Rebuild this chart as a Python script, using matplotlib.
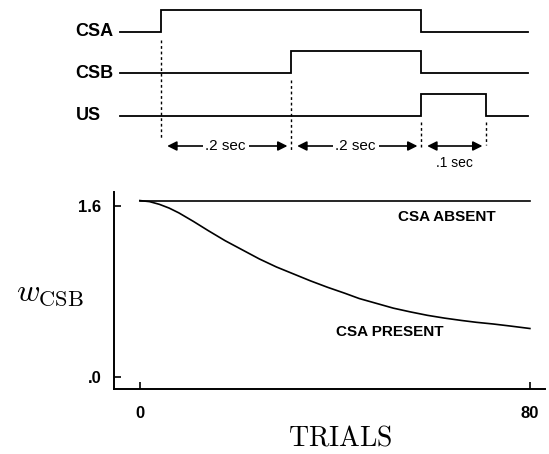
import matplotlib
matplotlib.use("Agg")
import matplotlib.pyplot as plt

plt.rcParams["mathtext.fontset"] = "cm"
plt.rcParams["font.family"] = ["Liberation Sans", "DejaVu Sans"]

# stimulus timing (seconds)
stim_names = ["CSA", "CSB", "US"]
stim_on = [0.0, 0.2, 0.4]
stim_off = [0.4, 0.4, 0.5]
trace_start, trace_end = -0.063, 0.565
interval_labels = [".2 sec", ".2 sec", ".1 sec"]

# associative strength of CSB over trials
trials = [0, 2, 4, 6, 8, 11, 14, 17.5, 21, 24.5, 28, 31.5, 35, 38.5, 42, 45,
          48.5, 52, 55.5, 59, 62.5, 66, 69, 72.5, 76, 80]
w_present = [1.65, 1.64, 1.615, 1.58, 1.535, 1.455, 1.37, 1.275, 1.19, 1.105,
             1.03, 0.965, 0.90, 0.84, 0.785, 0.735, 0.69, 0.645, 0.61, 0.578,
             0.552, 0.53, 0.513, 0.497, 0.478, 0.455]
w_absent = [1.65, 1.65]
absent_trials = [0, 80]

W, H = 549, 454
fig = plt.figure(figsize=(W / 100, H / 100), dpi=100)

# ---- timing diagram ----
top = fig.add_axes([0, 1 - 180 / H, 1, 180 / H])
top.set_xlim((0 - 160.7) / 650, (W - 160.7) / 650)
top.set_ylim(180, 0)
top.axis("off")

rows = [32, 73, 116]
pulse = 22
for name, on, off, base in zip(stim_names, stim_on, stim_off, rows):
    xs = [trace_start, on, on, off, off, trace_end]
    ys = [base, base, base - pulse, base - pulse, base, base]
    top.plot(xs, ys, color="black", lw=1.3, solid_joinstyle="miter")
    top.text(-0.131, base, name, ha="left", va="center",
             fontsize=13, fontweight="bold")

# dotted markers at onsets / offset
dots = [(stim_on[0], 40, 140), (stim_on[1], 80, 150),
        (stim_on[2], 122, 147), (stim_off[2], 122, 145)]
for x, y0, y1 in dots:
    top.plot([x, x], [y0, y1], color="black", lw=1.0, ls=(0, (2, 2)))

edges = [stim_on[0], stim_on[1], stim_on[2], stim_off[2]]
arrow_y = 146
for i, lab in enumerate(interval_labels):
    a, b = edges[i] + 0.01, edges[i + 1] - 0.005
    top.annotate("", xy=(b, arrow_y), xytext=(a, arrow_y),
                 arrowprops=dict(arrowstyle="<|-|>", color="black", lw=1.2,
                                 mutation_scale=14, shrinkA=0, shrinkB=0))
    mid = (edges[i] + edges[i + 1]) / 2
    if i < 2:
        top.text(mid, arrow_y, lab, ha="center", va="center", fontsize=11,
                 bbox=dict(facecolor="white", edgecolor="none", pad=2))
    else:
        top.text(mid + 0.002, arrow_y + 17, lab, ha="center", va="center",
                 fontsize=10)

# ---- learning curves ----
ax = fig.add_axes([114 / W, 1 - 389 / H, (545 - 114) / W, (389 - 192) / H])
ax.plot(absent_trials, w_absent, color="black", lw=1.2)
ax.plot(trials, w_present, color="black", lw=1.2)
ax.set_xlim(-5.3, 83.1)
ax.set_ylim(-0.11, 1.73)
for s in ["top", "right"]:
    ax.spines[s].set_visible(False)
for s in ["left", "bottom"]:
    ax.spines[s].set_linewidth(1.4)
ax.set_xticks([0, 80])
ax.set_xticklabels(["0", "80"], fontsize=12, fontweight="bold")
ax.set_yticks([0, 1.6])
ax.set_yticklabels([".0", "1.6"], fontsize=12, fontweight="bold")
ax.tick_params(axis="y", direction="in", length=5, width=1.2, pad=9)
ax.tick_params(axis="x", direction="in", length=5, width=1.2, pad=12)

ax.text(63.0, 1.497, "CSA ABSENT", ha="center", va="center",
        fontsize=11, fontweight="bold")
ax.text(51.3, 0.421, "CSA PRESENT", ha="center", va="center",
        fontsize=11, fontweight="bold")

fig.text(340 / W, 1 - 439 / H, r"$\mathrm{TRIALS}$", ha="center",
         va="center", fontsize=20)
fig.text(50 / W, 1 - 293 / H, r"$w_{\mathrm{CSB}}$", ha="center",
         va="center", fontsize=23)

fig.savefig("out.png", dpi=100)
